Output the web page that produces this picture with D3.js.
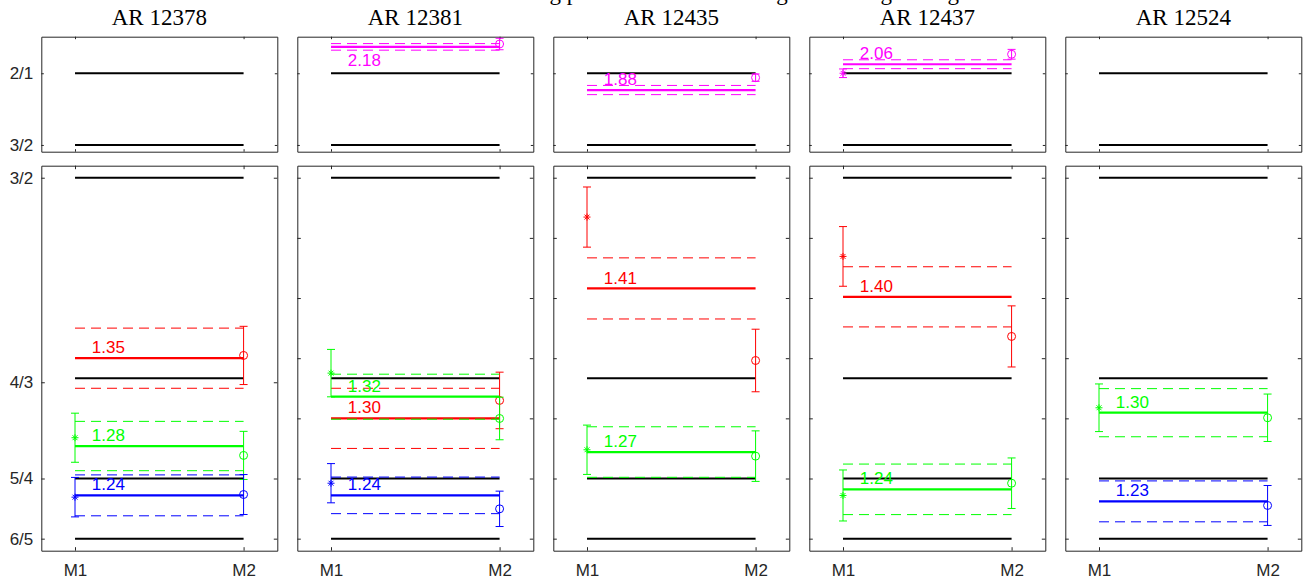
<!DOCTYPE html>
<html>
<head>
<meta charset="utf-8">
<script src="https://cdn.jsdelivr.net/npm/d3@7"></script>
<style>
  body { margin: 0; background: #fff; }
  svg { display: block; }
  .tick text { font-family: "Liberation Sans", Arial, sans-serif; font-size: 17px; fill: #262626; }
  .tick line, .domain { stroke: #262626; }
</style>
</head>
<body>
<svg width="1309" height="580"></svg>
<script>
"use strict";

// ---- data ----
var regions = ["AR 12378", "AR 12381", "AR 12435", "AR 12437", "AR 12524"];
var xCats = ["M1", "M2"];

// reference ratios drawn as black lines
var lowRefs = [6 / 5, 5 / 4, 4 / 3, 3 / 2];
var highRefs = [3 / 2, 2 / 1];

// tick values and labels
var lowTickVals = [1.2, 1.25, 1.33, 1.5];
var lowTickLabels = ["6/5", "5/4", "4/3", "3/2"];
var plainTickVals = [1.2, 1.25, 1.3, 1.35, 1.4, 1.45, 1.5];
var highTickVals = [1.5, 2.0];
var highTickLabels = ["3/2", "2/1"];

// red series (lower panels)
var redMean = [1.350, 1.300, 1.408, 1.401, null];
var redBand = [0.025, 0.025, 0.0254, 0.025, null];
var redM1 = [null, null, 1.4673, 1.4346, null];
var redM1Err = [null, null, 0.025, 0.0248, null];
var redM2 = [1.3523, 1.3149, 1.3481, 1.3681, null];
var redM2Err = [0.0242, 0.0235, 0.026, 0.0254, null];

// green series (lower panels)
var greenMean = [1.277, 1.318, 1.272, 1.241, 1.3047];
var greenBand = [0.0205, 0.0187, 0.021, 0.021, 0.02];
var greenM1 = [1.2839, 1.3376, 1.2739, 1.2359, 1.3088];
var greenM1Err = [0.0204, 0.0197, 0.0205, 0.0212, 0.0198];
var greenM2 = [1.2692, 1.2999, 1.2686, 1.2461, 1.3005];
var greenM2Err = [0.02, 0.0177, 0.021, 0.021, 0.0197];

// blue series (lower panels)
var blueMean = [1.236, 1.236, null, null, 1.231];
var blueBand = [0.017, 0.0152, null, null, 0.017];
var blueM1 = [1.2345, 1.2461, null, null, null];
var blueM1Err = [0.0164, 0.0163, null, null, null];
var blueM2 = [1.2367, 1.2248, null, null, 1.2276];
var blueM2Err = [0.0166, 0.0147, null, null, 0.0166];

// magenta series (upper panels)
var magentaMean = [null, 2.184, 1.883, 2.063, null];
var magentaBand = [null, 0.023, 0.032, 0.031, null];
var magentaM1 = [null, null, null, 2.0, null];
var magentaM1Err = [null, null, null, 0.03, null];
var magentaM2 = [null, 2.204, 1.9695, 2.1325, null];
var magentaM2Err = [null, 0.04, 0.026, 0.034, null];

var lowSeries = [
    {color: "#ff0000", mean: redMean, band: redBand, m1: redM1, m1e: redM1Err, m2: redM2, m2e: redM2Err},
    {color: "#00ff00", mean: greenMean, band: greenBand, m1: greenM1, m1e: greenM1Err, m2: greenM2, m2e: greenM2Err},
    {color: "#0000ff", mean: blueMean, band: blueBand, m1: blueM1, m1e: blueM1Err, m2: blueM2, m2e: blueM2Err}
];
var highSeries = [
    {color: "#ff00ff", mean: magentaMean, band: magentaBand, m1: magentaM1, m1e: magentaM1Err, m2: magentaM2, m2e: magentaM2Err}
];

// ---- layout ----
var svg = d3.select("svg");
var panelW = 236, panelStep = 256, firstLeft = 41.3;
var fmt = d3.format(".2f");

// suptitle, mostly cut off at the top edge
svg.append("text")
    .attr("x", 655).attr("y", 0)
    .attr("text-anchor", "middle")
    .style("font-family", "'Liberation Serif', serif")
    .style("font-size", "23px")
    .text("Ratio of the oscillating periods in the active regions during flaring");

function starPath(s) {
    var d = s * 0.7;
    return "M0," + (-s) + "L0," + s + "M" + (-s) + ",0L" + s + ",0" +
        "M" + (-d) + "," + (-d) + "L" + d + "," + d + "M" + (-d) + "," + d + "L" + d + "," + (-d);
}

function drawPanel(g, x, y, refs, series, idx, opts) {
    var left = x.range()[0], right = x.range()[1];
    var top = y.range()[1], bottom = y.range()[0];

    // axes (ticks inward)
    var yl = d3.axisLeft(y).tickValues(opts.tickVals).tickSize(-opts.tick).tickSizeOuter(0).tickPadding(8)
        .tickFormat(function (d, i) { return opts.tickLabels ? opts.tickLabels[i] : ""; });
    g.append("g").attr("transform", "translate(" + left + ",0)").call(yl);
    var yr = d3.axisRight(y).tickValues(opts.tickVals).tickSize(-opts.tick).tickSizeOuter(0).tickFormat("");
    g.append("g").attr("transform", "translate(" + right + ",0)").call(yr);
    var xb = d3.axisBottom(x).tickValues([1, 2]).tickSize(-opts.tick).tickSizeOuter(0).tickPadding(13)
        .tickFormat(function (d, i) { return opts.xLabels ? xCats[i] : ""; });
    g.append("g").attr("transform", "translate(0," + bottom + ")").call(xb);
    var xt = d3.axisTop(x).tickValues([1, 2]).tickSize(-opts.tick).tickSizeOuter(0).tickFormat("");
    g.append("g").attr("transform", "translate(0," + top + ")").call(xt);

    // black reference lines
    g.selectAll("line.ref")
        .data(refs)
        .enter()
        .append("line")
        .classed("ref", true)
        .attr("x1", x(1)).attr("x2", x(2))
        .attr("y1", function (d) { return y(d); })
        .attr("y2", function (d) { return y(d); })
        .attr("stroke", "#000")
        .attr("stroke-width", 2);

    series.forEach(function (s) {
        var m = s.mean[idx];
        if (m == null) return;
        var b = s.band[idx];

        // dashed band
        [m + b, m - b].forEach(function (v) {
            g.append("line")
                .attr("x1", x(1)).attr("x2", x(2))
                .attr("y1", y(v)).attr("y2", y(v))
                .attr("stroke", s.color)
                .attr("stroke-width", 1)
                .attr("stroke-dasharray", "10,6");
        });
        // mean line
        g.append("line")
            .attr("x1", x(1)).attr("x2", x(2))
            .attr("y1", y(m)).attr("y2", y(m))
            .attr("stroke", s.color)
            .attr("stroke-width", 2.2);

        // label, below the line when the line is close to the top
        var ly = y(m) - 11;
        if (y(m) - top < 20) ly = y(m) + 13;
        g.append("text")
            .attr("x", x(1.1))
            .attr("y", ly)
            .attr("dy", "0.36em")
            .style("font-family", "'Liberation Sans', Arial, sans-serif")
            .style("font-size", "17px")
            .attr("fill", s.color)
            .text(fmt(m));

        // error bars and markers
        [[1, s.m1[idx], s.m1e[idx], "star"], [2, s.m2[idx], s.m2e[idx], "circle"]].forEach(function (p) {
            if (p[1] == null) return;
            var cx = x(p[0]);
            g.append("line")
                .attr("x1", cx).attr("x2", cx)
                .attr("y1", y(p[1] - p[2])).attr("y2", y(p[1] + p[2]))
                .attr("stroke", s.color).attr("stroke-width", 1);
            [p[1] - p[2], p[1] + p[2]].forEach(function (v) {
                g.append("line")
                    .attr("x1", cx - 4).attr("x2", cx + 4)
                    .attr("y1", y(v)).attr("y2", y(v))
                    .attr("stroke", s.color).attr("stroke-width", 1);
            });
            if (p[3] === "star") {
                g.append("path")
                    .attr("transform", "translate(" + cx + "," + y(p[1]) + ")")
                    .attr("d", starPath(3.5))
                    .attr("stroke", s.color).attr("stroke-width", 1).attr("fill", "none");
            } else {
                g.append("circle")
                    .attr("cx", cx).attr("cy", y(p[1])).attr("r", 4)
                    .attr("stroke", s.color).attr("stroke-width", 1).attr("fill", "none");
            }
        });
    });
}

regions.forEach(function (name, i) {
    var left = firstLeft + i * panelStep;
    var x = d3.scaleLinear().domain([0.8, 2.2]).range([left, left + panelW]);
    var yHigh = d3.scaleLinear().domain([1.453, 2.255]).range([151.7, 36.7]);
    var yLow = d3.scaleLinear().domain([1.19, 1.51]).range([550.7, 165.7]);

    svg.append("text")
        .attr("x", left + panelW / 2).attr("y", 25)
        .attr("text-anchor", "middle")
        .style("font-family", "'Liberation Serif', serif")
        .style("font-size", "23px")
        .text(name);

    drawPanel(svg.append("g"), x, yHigh, highRefs, highSeries, i, {
        tick: 2.5,
        tickVals: highTickVals,
        tickLabels: i === 0 ? highTickLabels : null,
        xLabels: false
    });
    drawPanel(svg.append("g"), x, yLow, lowRefs, lowSeries, i, {
        tick: 3.5,
        tickVals: i === 0 ? lowTickVals : plainTickVals,
        tickLabels: i === 0 ? lowTickLabels : null,
        xLabels: true
    });
});
</script>
</body>
</html>
